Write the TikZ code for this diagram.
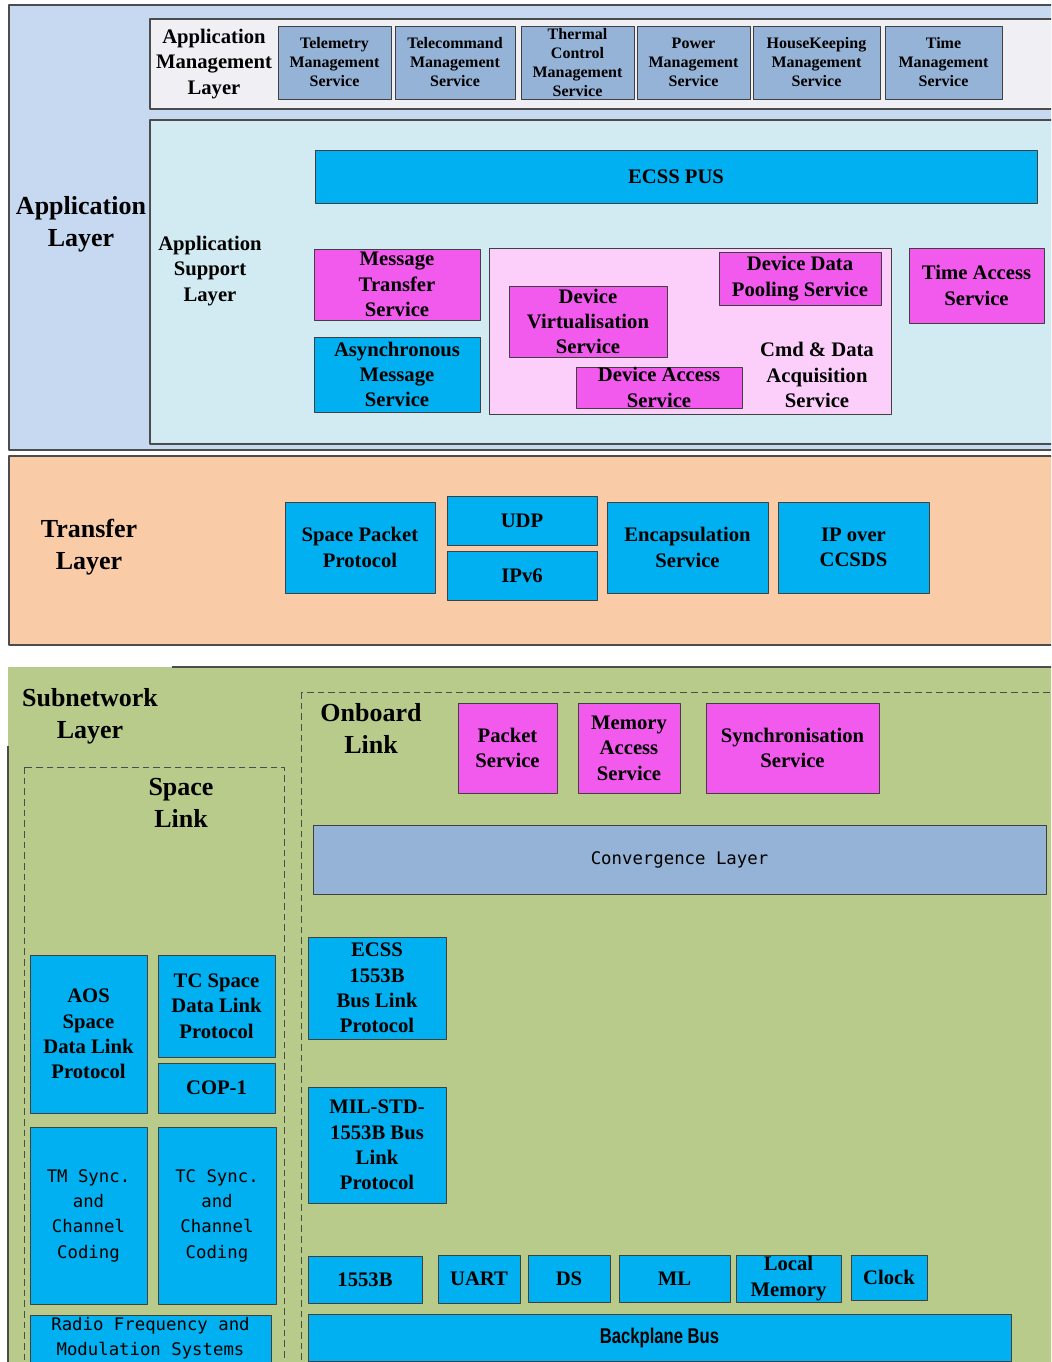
\documentclass[tikz,border=0pt]{standalone}
\usepackage{fontspec}
\usepackage{graphicx}
\setmainfont{Liberation Serif}
\newfontfamily\monofont{DejaVu Sans Mono}
\newfontfamily\arialfont{Liberation Sans}
\definecolor{appblue}{HTML}{C6D9F0}
\definecolor{mgmtgray}{HTML}{F0EFF4}
\definecolor{svcblue}{HTML}{95B3D7}
\definecolor{supcyan}{HTML}{D2EAF1}
\definecolor{cyanfill}{HTML}{00B0F0}
\definecolor{magfill}{HTML}{F25AEE}
\definecolor{pinkfill}{HTML}{FBCFFA}
\definecolor{peach}{HTML}{F9CBA6}
\definecolor{olive}{HTML}{B8CB8A}
\newcommand\lyrfont{\bfseries\fontsize{19.5}{24}\selectfont}
\newcommand\boxfont{\bfseries\fontsize{15.5}{19}\selectfont}
\newcommand\svcfont{\bfseries\fontsize{12}{14.25}\selectfont}
\newcommand\codefont{\monofont\fontsize{13}{19}\selectfont}
\tikzset{
	blk/.style={draw=black!75, line width=0.6pt, inner sep=0pt, outer sep=0pt, align=center},
	svcbox/.style={blk, fill=svcblue, font=\svcfont},
	cyanbox/.style={blk, fill=cyanfill, font=\boxfont},
	magbox/.style={blk, fill=magfill, font=\boxfont},
	codebox/.style={blk, fill=cyanfill, font=\codefont},
	convbox/.style={blk, fill=svcblue, font=\codefont},
	layer/.style={draw=black!70, line width=0.8pt},
	lbl/.style={align=center, font=\lyrfont},
	sublbl/.style={align=center, font=\boxfont},
	linkbox/.style={draw=black!70, line width=0.6pt, dash pattern=on 5pt off 3pt}
}
% style, name, x1, y1, x2, y2, text
\newcommand\bx[7]{\node[#1, minimum width={(#5-#3)*0.75pt}, minimum height={(#6-#4)*0.75pt}] (#2) at ({(#3+#5)/2},{(#4+#6)/2}) {#7};}
\begin{document}
\begin{tikzpicture}[x=0.75pt, y=-0.75pt, line join=round]
	\useasboundingbox (0,0) rectangle (1051,1362);
	\clip (0,0) rectangle (1051,1362);
	% application layer
	\draw[layer, fill=appblue] (9,5) rectangle (1070,450);
	\draw[layer, fill=mgmtgray] (150,19) rectangle (1070,109);
	\draw[layer, fill=supcyan] (150,120) rectangle (1070,444);
	\node[lbl] (applbl) at (81,224) {Application\\Layer};
	\node[sublbl] (amllbl) at (214,64) {Application\\Management\\Layer};
	\node[sublbl] (asllbl) at (210,271) {Application\\Support\\Layer};
	\bx{svcbox}{tmsvc}{278}{26}{391}{99}{Telemetry\\Management\\Service}
	\bx{svcbox}{tcsvc}{395}{26}{515}{99}{Telecommand\\Management\\Service}
	\bx{svcbox}{thermsvc}{521}{26}{634}{99}{Thermal\\Control\\Management\\Service}
	\bx{svcbox}{powsvc}{637}{26}{750}{99}{Power\\Management\\Service}
	\bx{svcbox}{hksvc}{753}{26}{880}{99}{HouseKeeping\\Management\\Service}
	\bx{svcbox}{timesvc}{885}{26}{1002}{99}{Time\\Management\\Service}
	\bx{cyanbox}{ecsspus}{315}{150}{1037}{203}{ECSS PUS}
	\bx{magbox}{msgtr}{314}{249}{480}{320}{Message\\Transfer\\Service}
	\bx{cyanbox}{asyncmsg}{314}{337}{480}{412}{Asynchronous\\Message\\Service}
	\draw[blk, fill=pinkfill] (489,248) rectangle (891,414);
	\bx{magbox}{devvirt}{509}{286}{667}{357}{Device\\Virtualisation\\Service}
	\bx{magbox}{devpool}{719}{252}{881}{305}{Device Data\\Pooling Service}
	\bx{magbox}{devacc}{576}{367}{742}{408}{Device Access\\Service}
	\node[sublbl] (cmdlbl) at (817,375) {Cmd \& Data\\Acquisition\\Service};
	\bx{magbox}{timeacc}{909}{248}{1044}{323}{Time Access\\Service}
	% transfer layer
	\draw[layer, fill=peach] (9,456) rectangle (1070,645);
	\node[lbl] (trlbl) at (89,547) {Transfer\\Layer};
	\bx{cyanbox}{spp}{285}{502}{435}{593}{Space Packet\\Protocol}
	\bx{cyanbox}{udp}{447}{496}{597}{545}{UDP}
	\bx{cyanbox}{ipv6}{447}{551}{597}{600}{IPv6}
	\bx{cyanbox}{encap}{607}{502}{768}{593}{Encapsulation\\Service}
	\bx{cyanbox}{ipccsds}{778}{502}{929}{593}{IP over\\CCSDS}
	% subnetwork layer
	\fill[olive] (8,667) rectangle (1070,1370);
	\draw[layer] (172,667) -- (1070,667) (8,746) -- (8,1370);
	\node[lbl] (snlbl) at (90,716) {Subnetwork\\Layer};
	\draw[linkbox] (24,767) rectangle (284,1375);
	\draw[linkbox] (301,692) rectangle (1075,1375);
	\node[lbl] (sllbl) at (181,803) {Space\\Link};
	\node[lbl] (ollbl) at (371,728) {Onboard\\Link};
	\bx{cyanbox}{aos}{30}{955}{147}{1113}{AOS\\Space\\Data Link\\Protocol}
	\bx{cyanbox}{tcsdl}{158}{955}{275}{1057}{TC Space\\Data Link\\Protocol}
	\bx{cyanbox}{cop}{158}{1063}{275}{1113}{COP-1}
	\bx{codebox}{tmsync}{30}{1127}{147}{1304}{TM Sync.\\and\\Channel\\Coding}
	\bx{codebox}{tcsync}{158}{1127}{276}{1304}{TC Sync.\\and\\Channel\\Coding}
	\bx{codebox}{rfmod}{30}{1315}{271}{1362}{Radio Frequency and\\Modulation Systems}
	\bx{magbox}{pktsvc}{458}{703}{557}{793}{Packet\\Service}
	\bx{magbox}{memsvc}{578}{703}{680}{793}{Memory\\Access\\Service}
	\bx{magbox}{syncsvc}{706}{703}{879}{793}{Synchronisation\\Service}
	\bx{convbox}{conv}{313}{825}{1046}{894}{Convergence Layer}
	\bx{cyanbox}{ecssbus}{308}{937}{446}{1039}{ECSS\\1553B\\Bus Link\\Protocol}
	\bx{cyanbox}{milstd}{308}{1087}{446}{1203}{MIL-STD-\\1553B Bus\\Link\\Protocol}
	\bx{cyanbox}{bus1553}{308}{1256}{422}{1303}{1553B}
	\bx{cyanbox}{uart}{438}{1255}{520}{1303}{UART}
	\bx{cyanbox}{ds}{528}{1255}{610}{1302}{DS}
	\bx{cyanbox}{ml}{619}{1255}{730}{1302}{ML}
	\bx{cyanbox}{locmem}{736}{1255}{841}{1302}{Local\\Memory}
	\bx{cyanbox}{clock}{851}{1255}{927}{1300}{Clock}
	\bx{cyanbox}{backplane}{308}{1314}{1011}{1361}{\arialfont\bfseries\fontsize{16}{19}\selectfont\scalebox{0.78}[1]{Backplane Bus}}
\end{tikzpicture}
\end{document}
